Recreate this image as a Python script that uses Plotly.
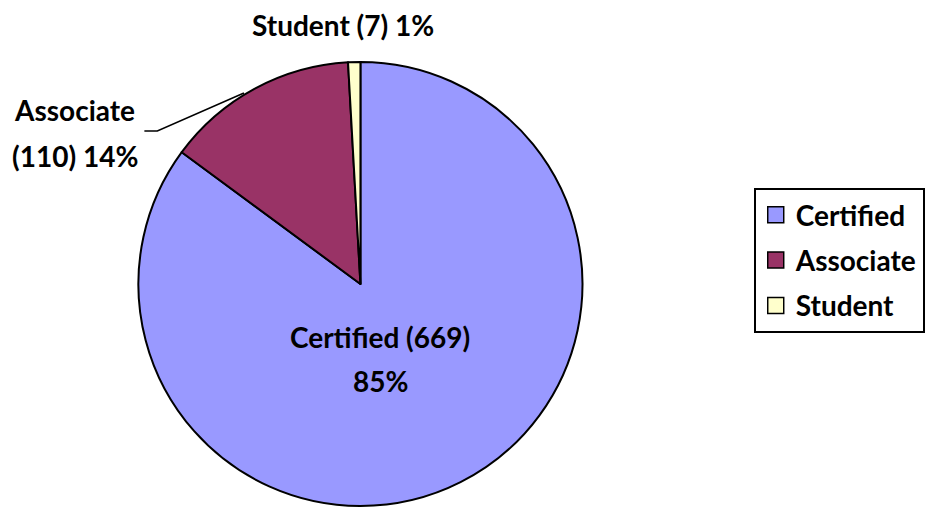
import plotly.graph_objects as go

categories = ["Certified", "Associate", "Student"]
values = [669, 110, 7]
percents = ["85%", "14%", "1%"]
colors = ["#9999FF", "#993366", "#FFFFCC"]

W, H = 925, 508
FONT = "Lato"
cx, cy, r = 362, 284, 223

fig = go.Figure()
fig.add_trace(go.Pie(
    labels=categories, values=values, sort=False, direction="clockwise", rotation=0,
    marker=dict(colors=colors, line=dict(color="black", width=2)),
    textinfo="none", hoverinfo="label+value+percent", showlegend=False,
    domain=dict(x=[(cx - r) / W, (cx + r) / W], y=[(H - cy - r) / H, (H - cy + r) / H]),
))

for c, col in zip(categories, colors):
    fig.add_trace(go.Scatter(
        x=[None], y=[None], mode="markers", name=c, legendgroup=c,
        marker=dict(symbol="square", size=17, color=col, line=dict(color="black", width=1.5)),
    ))

def px(x):
    return x / W

def py(y):
    return (H - y) / H

ann = [
    (f"{categories[0]} ({values[0]})", 382, 337),
    (f"{percents[0]}", 382, 381),
    (f"{categories[2]} ({values[2]}) {percents[2]}", 344, 25),
    (f"{categories[1]}", 75, 110),
    (f"({values[1]}) {percents[1]}", 75, 156),
]
for text, x, y in ann:
    fig.add_annotation(text=text, x=px(x), y=py(y), xref="paper", yref="paper",
                       showarrow=False, xanchor="center", yanchor="middle",
                       font=dict(family=FONT, size=28, color="black", weight="bold"),
                       align="center")

fig.add_shape(type="path", xref="paper", yref="paper",
              path=f"M {px(145)} {py(131)} L {px(158)} {py(131)} L {px(245)} {py(93)}",
              line=dict(color="black", width=1.5))

fig.update_layout(
    width=W, height=H, margin=dict(l=0, r=0, t=0, b=0),
    paper_bgcolor="white", plot_bgcolor="white",
    xaxis=dict(visible=False), yaxis=dict(visible=False),
    legend=dict(x=757 / W, xanchor="left", y=(H - 188) / H, yanchor="top",
                bordercolor="black", borderwidth=2, bgcolor="white",
                font=dict(family=FONT, size=28, color="black", weight="bold"),
                tracegroupgap=6, itemwidth=30, entrywidth=180),
)

fig.write_html("out.html", config={"displayModeBar": False},
               post_script="document.body.style.margin='0';")
